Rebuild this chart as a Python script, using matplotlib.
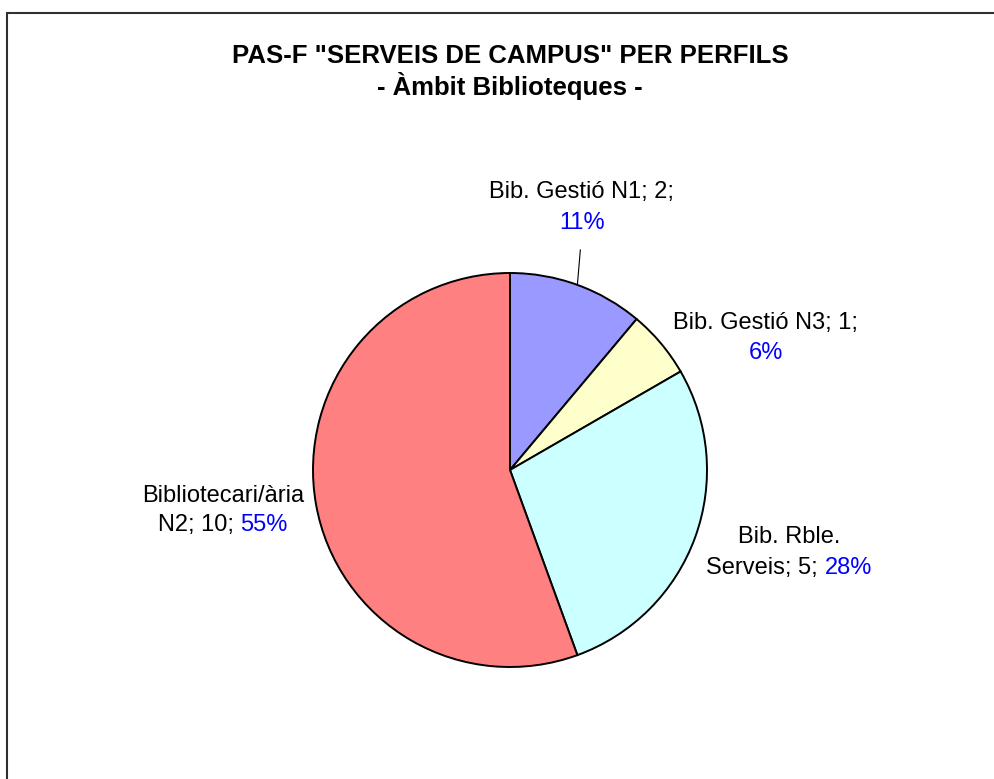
import matplotlib
matplotlib.use("Agg")
import matplotlib.pyplot as plt
from matplotlib.patches import Rectangle
import numpy as np

plt.rcParams['font.family'] = ['Liberation Sans', 'DejaVu Sans']

# data
names = ['Bib. Gestió N1', 'Bib. Gestió N3', 'Bib. Rble. Serveis', 'Bibliotecari/ària N2']
values = [2, 1, 5, 10]
pct_labels = ['11%', '6%', '28%', '55%']

colors = ['#9999FF', '#FFFFCC', '#CCFFFF', '#FF8080']
pct_color = '#0000FF'

W, H = 994, 779
fig = plt.figure(figsize=(W / 100, H / 100), dpi=100)

# outer chart frame (right/bottom run off the picture)
fig.patches.append(Rectangle((7 / W, -0.02), 1.05, 1 - 13 / H + 0.02,
                             transform=fig.transFigure, fill=False,
                             edgecolor='#303030', linewidth=1.5))

fig.text(510 / W, 1 - 56 / H, 'PAS-F "SERVEIS DE CAMPUS" PER PERFILS',
         ha='center', va='center', fontsize=18.5, fontweight='bold')
fig.text(510 / W, 1 - 86 / H, '- Àmbit Biblioteques -',
         ha='center', va='center', fontsize=18.5, fontweight='bold')

cx, cy, r = 510, 470, 197
ax = fig.add_axes([(cx - r) / W, (H - cy - r) / H, 2 * r / W, 2 * r / H])
wedges, _ = ax.pie(values, colors=colors, startangle=90, counterclock=False,
                   wedgeprops=dict(edgecolor='black', linewidth=1.4))
ax.set_xlim(-1, 1)
ax.set_ylim(-1, 1)
ax.axis('off')

fs = 17
# label lines: (x, y) in pie units, then (text, colour) parts
label_lines = [
    (0.365, 1.411, [('Bib. Gestió N1; 2;', 'black')]),
    (0.365, 1.254, [(pct_labels[0], pct_color)]),
    (1.299, 0.746, [('Bib. Gestió N3; 1;', 'black')]),
    (1.299, 0.594, [(pct_labels[1], pct_color)]),
    (1.416, -0.340, [('Bib. Rble.', 'black')]),
    (1.416, -0.497, [('Serveis; 5; ', 'black'), (pct_labels[2], pct_color)]),
    (-1.457, -0.132, [('Bibliotecari/ària', 'black')]),
    (-1.457, -0.279, [('N2; 10; ', 'black'), (pct_labels[3], pct_color)]),
]

drawn = []
for x, y, parts in label_lines:
    txt, col = parts[0]
    first = ax.text(x, y, txt, ha='left', va='center', fontsize=fs, color=col)
    arts = [first]
    for txt, col in parts[1:]:
        arts.append(ax.annotate(txt, xy=(1, 0), xycoords=arts[-1], ha='left',
                                va='bottom', fontsize=fs, color=col))
    drawn.append((arts, x, y))

fig.canvas.draw()
px_per_unit = ax.transData.transform((1, 0))[0] - ax.transData.transform((0, 0))[0]
for arts, x, y in drawn:
    w = sum(a.get_window_extent().width for a in arts)
    arts[0].set_position((x - w / 2 / px_per_unit, y))

# leader line for the first slice
a = np.deg2rad(90 - values[0] / sum(values) * 180)
ax.plot([np.cos(a), np.cos(a) + 0.015], [np.sin(a), 1.117], color='black',
        linewidth=0.8, clip_on=False)

fig.savefig('out.png', dpi=100)
